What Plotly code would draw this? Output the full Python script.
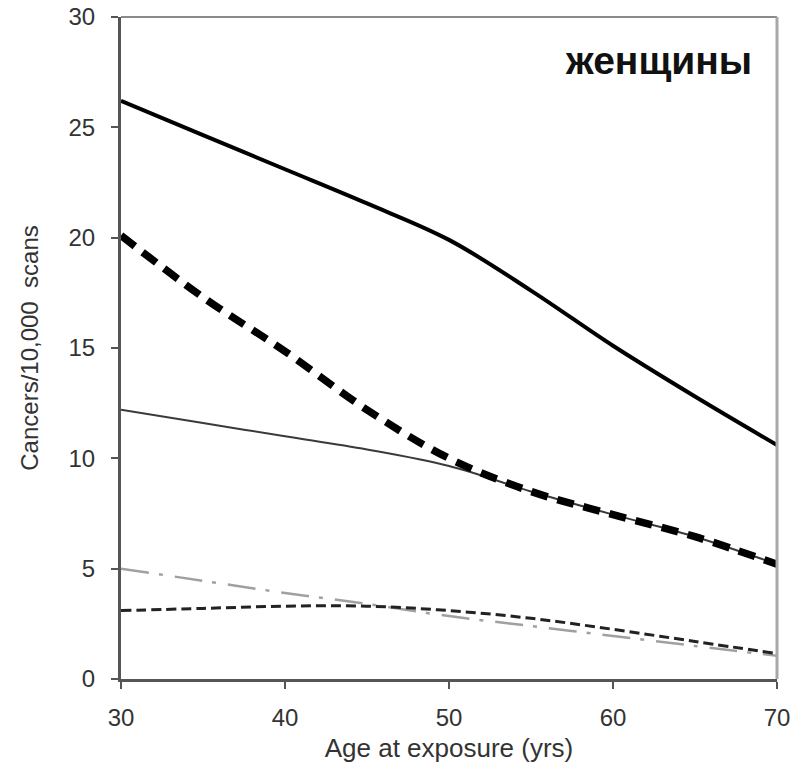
import plotly.graph_objects as go

ages = [30, 35, 40, 45, 50, 55, 60, 65, 70]
thick_solid = [26.2, 24.65, 23.1, 21.55, 19.9, 17.6, 15.1, 12.8, 10.6]
thick_dashed = [20.1, 17.3, 14.85, 12.2, 10.0, 8.5, 7.45, 6.45, 5.2]
thin_solid = [12.2, 11.6, 11.0, 10.4, 9.65, 8.5, 7.45, 6.45, 5.2]
gray_dashdot = [5.0, 4.45, 3.9, 3.4, 2.85, 2.4, 1.95, 1.5, 1.05]
small_dashed = [3.1, 3.2, 3.3, 3.3, 3.1, 2.75, 2.25, 1.7, 1.15]

x_ticks = [30, 40, 50, 60, 70]
y_ticks = [0, 5, 10, 15, 20, 25, 30]

fig = go.Figure()
fig.add_trace(go.Scatter(x=ages, y=gray_dashdot, mode="lines",
                         line=dict(color="#a0a0a0", width=2.5, dash="28px,10px,4px,12px", shape="spline")))
fig.add_trace(go.Scatter(x=ages, y=small_dashed, mode="lines",
                         line=dict(color="#222222", width=3, dash="10px,5px", shape="spline")))
fig.add_trace(go.Scatter(x=ages, y=thin_solid, mode="lines",
                         line=dict(color="#3a3a3a", width=2, shape="spline")))
fig.add_trace(go.Scatter(x=ages, y=thick_dashed, mode="lines",
                         line=dict(color="#000000", width=7.5, dash="17px,10px", shape="spline")))
fig.add_trace(go.Scatter(x=ages, y=thick_solid, mode="lines",
                         line=dict(color="#000000", width=4, shape="spline")))

# top and right frame lines
fig.add_shape(type="line", xref="x domain", yref="y domain", x0=0, x1=1, y0=1, y1=1,
              line=dict(color="#8a8a8a", width=2))
fig.add_shape(type="line", xref="x domain", yref="y domain", x0=1, x1=1, y0=0, y1=1,
              line=dict(color="#a8a8a8", width=3))

fig.add_annotation(text="<b>женщины</b>", xref="x domain", yref="y domain",
                   x=0.965, y=0.935, xanchor="right", yanchor="middle", showarrow=False,
                   font=dict(family="Liberation Sans", size=39, color="#111111"))

fig.update_layout(
    width=803, height=774,
    margin=dict(l=121, r=26, t=17, b=95),
    paper_bgcolor="white", plot_bgcolor="white",
    showlegend=False, hovermode=False,
    font=dict(family="Liberation Sans", color="#333333"),
)
fig.update_xaxes(range=[30, 70], tickvals=x_ticks, ticktext=[str(v) for v in x_ticks],
                 automargin=False, ticklabeloverflow="allow",
                 showgrid=False, zeroline=False, showline=True, linecolor="#555555", linewidth=3,
                 ticks="outside", ticklen=7, tickwidth=2, tickcolor="#555555",
                 tickfont=dict(size=24, color="#333333"), ticklabelstandoff=8,
                 title=dict(text="Age at exposure (yrs)", font=dict(size=26, color="#333333"), standoff=10))
fig.update_yaxes(range=[0, 30], tickvals=y_ticks, ticktext=[str(v) for v in y_ticks],
                 automargin=False, ticklabeloverflow="allow",
                 showgrid=False, zeroline=False, showline=True, linecolor="#555555", linewidth=3,
                 ticks="outside", ticklen=7, tickwidth=2, tickcolor="#555555",
                 tickfont=dict(size=24, color="#333333"), ticklabelstandoff=11,
                 title=dict(text="Cancers/10,000  scans", font=dict(size=24, color="#333333"), standoff=24))

fig.write_html("out.html", config={"displayModeBar": False},
               post_script="document.body.style.margin='0';")
